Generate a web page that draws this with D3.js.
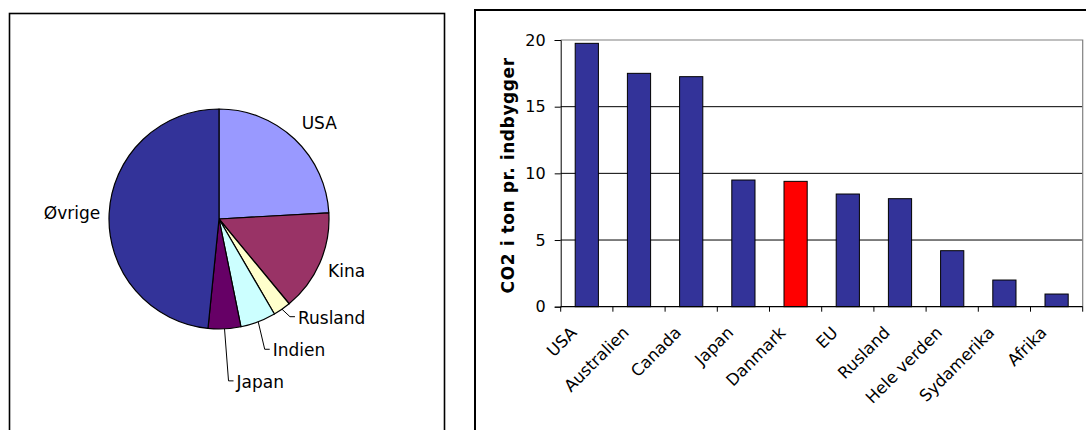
<!DOCTYPE html>
<html>
<head>
<meta charset="utf-8">
<script src="https://cdn.jsdelivr.net/npm/d3@7"></script>
<style>
  body { margin: 0; background: #fff; }
  svg { display: block; }
  text { font-family: "DejaVu Sans", Verdana, sans-serif; fill: #000; }
</style>
</head>
<body>
<svg id="chart" width="1086" height="430"></svg>
<script>
// Share of world CO2 emissions (%)
const shareNames  = ["USA", "Kina", "Rusland", "Indien", "Japan", "Øvrige"];
const shareValues = [24.1, 14.9, 2.6, 5.2, 4.8, 48.4];

// CO2 emissions per inhabitant (tonnes)
const countries  = ["USA", "Australien", "Canada", "Japan", "Danmark", "EU", "Rusland", "Hele verden", "Sydamerika", "Afrika"];
const perCapita  = [19.75, 17.5, 17.25, 9.5, 9.4, 8.45, 8.1, 4.2, 2.0, 0.95];
const yTicks     = [0, 5, 10, 15, 20];
const yTitle     = "CO2 i ton pr. indbygger";
const highlighted = "Danmark";

// ---- styling / layout ----
const sliceColors = {
  "USA": "#9999FF", "Kina": "#993366", "Rusland": "#FFFFCC",
  "Indien": "#CCFFFF", "Japan": "#660066", "Øvrige": "#333399"
};
const barColor = "#333399", barHighlight = "#FF0000";

const svg = d3.select("#chart");

// panel frames
svg.append("rect").attr("x", 9.5).attr("y", 13.5).attr("width", 435).attr("height", 500)
  .attr("fill", "#fff").attr("stroke", "#000").attr("stroke-width", 1.6);
svg.append("rect").attr("x", 475).attr("y", 10).attr("width", 700).attr("height", 500)
  .attr("fill", "#fff").attr("stroke", "#000").attr("stroke-width", 2);

// ================= PIE =================
const cx = 219, cy = 219, R = 110;
const pieData = shareNames.map((n, i) => ({ name: n, value: shareValues[i] }));
const arcs = d3.pie().sort(null).value(d => d.value)(pieData);
const arcGen = d3.arc().innerRadius(0).outerRadius(R);

const pieG = svg.append("g").attr("transform", `translate(${cx},${cy})`);
pieG.selectAll("path").data(arcs).join("path")
  .attr("d", arcGen)
  .attr("fill", d => sliceColors[d.data.name])
  .attr("stroke", "#000").attr("stroke-width", 1.2).attr("stroke-linejoin", "round");

const pieFont = 17, capH = pieFont * 0.73;
// labels that sit next to their slice
const labelGap = 14;
const labelNudge = { "USA": [3, -2], "Kina": [-3, 0], "Øvrige": [5, 0] };
// labels moved out with a leader line: offset of label start from the slice edge point
const callout = { "Rusland": [16, 8.5], "Indien": [14.5, 28.5], "Japan": [12, 53] };

arcs.forEach(a => {
  const mid = (a.startAngle + a.endAngle) / 2;
  const sx = Math.sin(mid), cyv = -Math.cos(mid);
  const name = a.data.name;
  if (callout[name]) {
    const px = cx + R * sx, py = cy + R * cyv;
    const tx = px + callout[name][0], ty = py + callout[name][1];
    svg.append("path")
      .attr("d", `M${px},${py}L${tx - 8},${ty - 1}L${tx - 3},${ty - 1}`)
      .attr("fill", "none").attr("stroke", "#000").attr("stroke-width", 1);
    svg.append("text").attr("x", tx).attr("y", ty + capH / 2)
      .attr("font-size", pieFont).text(name);
  } else {
    const ax = cx + (R + labelGap) * sx, ay = cy + (R + labelGap) * cyv;
    const t = svg.append("text").attr("font-size", pieFont).text(name);
    const w = t.node().getComputedTextLength();
    const s = (1 - sx) / 2;            // 0 on right side, 1 on left side
    const v = (1 - Math.cos(mid)) / 2; // 0 at top, 1 at bottom
    const nd = labelNudge[name] || [0, 0];
    t.attr("x", ax - s * w + nd[0]).attr("y", ay + v * capH + nd[1]);
  }
});

// ================= BAR CHART =================
const plot = { left: 560.7, right: 1082.7, top: 40, bottom: 306.7 };
const x = d3.scaleBand().domain(countries).range([plot.left, plot.right])
  .paddingInner(0.5556).paddingOuter(0.2778);
const y = d3.scaleLinear().domain([0, 20]).range([plot.bottom, plot.top]);

const barG = svg.append("g");

// horizontal gridlines
barG.selectAll("line.grid").data(yTicks.filter(v => v > 0 && v < 20)).join("line")
  .attr("class", "grid")
  .attr("x1", plot.left).attr("x2", plot.right)
  .attr("y1", d => y(d)).attr("y2", d => y(d))
  .attr("stroke", "#000").attr("stroke-width", 1);

// plot-area frame (top and right edges)
barG.append("path")
  .attr("d", `M${plot.left},${y(20)}H${plot.right}V${plot.bottom}`)
  .attr("fill", "none").attr("stroke", "#808080").attr("stroke-width", 1.2);

// bars
barG.selectAll("rect.bar").data(countries).join("rect")
  .attr("class", "bar")
  .attr("x", d => x(d))
  .attr("width", x.bandwidth())
  .attr("y", (d, i) => y(perCapita[i]))
  .attr("height", (d, i) => y(0) - y(perCapita[i]))
  .attr("fill", d => d === highlighted ? barHighlight : barColor)
  .attr("stroke", "#000").attr("stroke-width", 1);

// y axis
const yAxis = d3.axisLeft(y).tickValues(yTicks).tickSize(6).tickPadding(9);
const yG = barG.append("g").attr("transform", `translate(${plot.left},0)`).call(yAxis);
yG.select(".domain").attr("stroke", "#000");
yG.selectAll(".tick line").attr("stroke", "#000");
yG.selectAll(".tick text").attr("font-size", 16).attr("font-family", "DejaVu Sans, Verdana, sans-serif").attr("fill", "#000");

// x axis: tick marks at category boundaries
const bounds = countries.map(c => x(c) - x.step() * x.paddingInner() / 2)
  .concat([plot.right]);
barG.append("line")
  .attr("x1", plot.left).attr("x2", plot.right)
  .attr("y1", plot.bottom).attr("y2", plot.bottom)
  .attr("stroke", "#000").attr("stroke-width", 1.2);
barG.selectAll("line.xt").data(bounds).join("line")
  .attr("class", "xt")
  .attr("x1", d => d).attr("x2", d => d)
  .attr("y1", plot.bottom).attr("y2", plot.bottom + 5)
  .attr("stroke", "#000");

// rotated category labels
barG.selectAll("text.xl").data(countries).join("text")
  .attr("class", "xl")
  .attr("font-size", 16.5)
  .attr("text-anchor", "end")
  .attr("transform", d => `translate(${x(d) + x.bandwidth() / 2 - 9},${plot.bottom + 27}) rotate(-45)`)
  .text(d => d);

// y axis title
svg.append("text")
  .attr("font-size", 17).attr("font-weight", "bold")
  .attr("letter-spacing", 0.6)
  .attr("text-anchor", "middle")
  .attr("transform", `translate(514,${(plot.top + plot.bottom) / 2 + 2}) rotate(-90)`)
  .text(yTitle);
</script>
</body>
</html>
